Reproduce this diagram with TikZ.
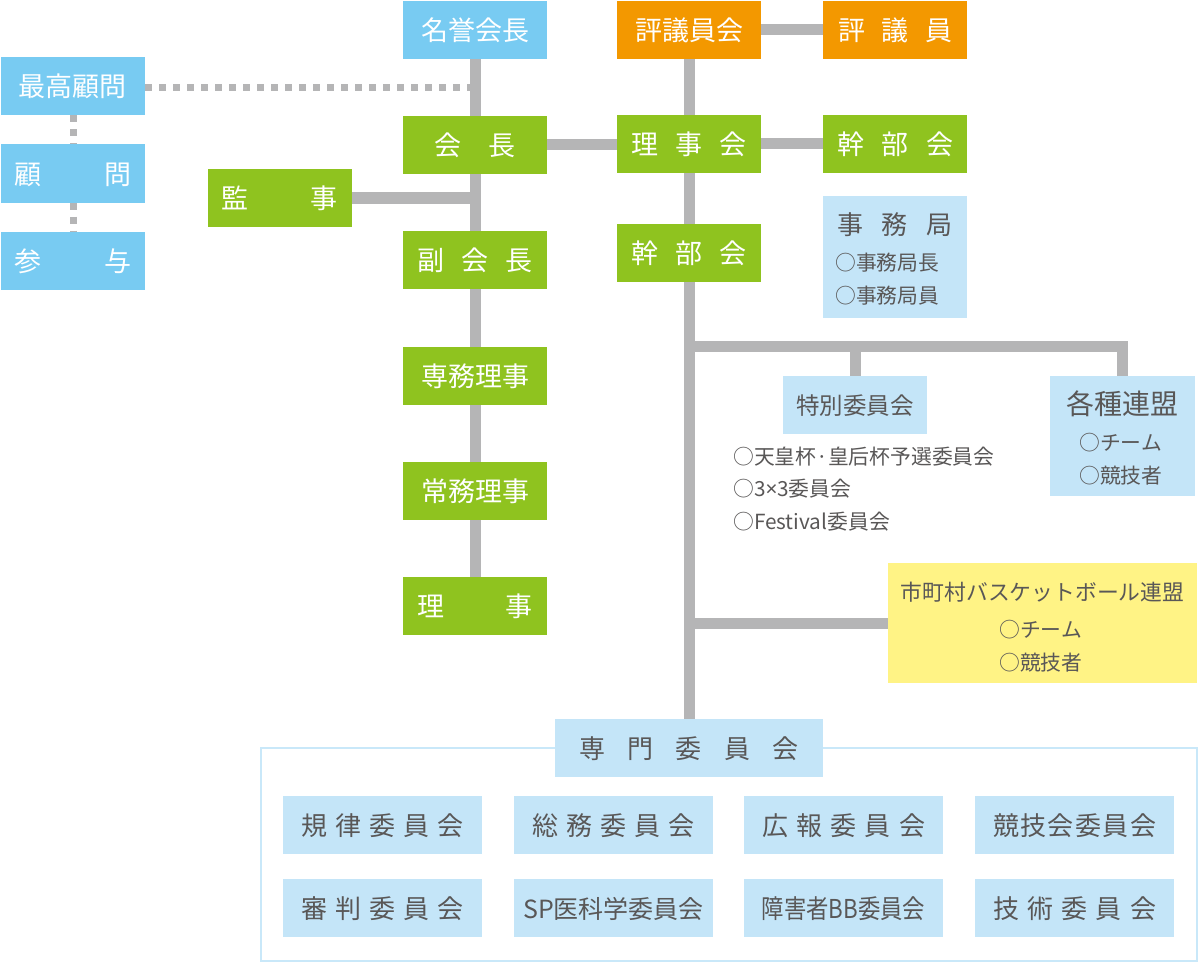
\documentclass[tikz,border=0pt]{standalone}
\usepackage{fontspec}
\setmainfont{Noto Sans CJK JP}
\newfontfamily\latinf{Noto Sans}
\newfontfamily\narrowjp[FakeStretch=0.86]{Noto Sans CJK JP}
\usetikzlibrary{backgrounds}
\definecolor{sky}{HTML}{78CBF2}
\definecolor{leaf}{HTML}{8FC31F}
\definecolor{amber}{HTML}{F39800}
\definecolor{pale}{HTML}{C4E5F8}
\definecolor{framec}{HTML}{C9E8F9}
\definecolor{lemon}{HTML}{FFF385}
\definecolor{lgray}{HTML}{B5B5B6}
\definecolor{txt}{HTML}{595757}
\newcommand{\spr}[2]{\makebox[#1pt][s]{#2}}
\newcommand{\fs}[1]{\fontsize{#1}{#1}\selectfont}
\begin{document}
\begin{tikzpicture}[x=1pt,y=-1pt,
  fA/.style={font=\fs{27}, text height=24.3pt, text depth=2.7pt},
  fB/.style={font=\fs{26}, text height=23.4pt, text depth=2.6pt},
  fC/.style={font=\fs{25}, text height=22.5pt, text depth=2.5pt},
  fD/.style={font=\fs{23.5}, text height=21.15pt, text depth=2.35pt},
  fE/.style={font=\narrowjp\fs{26}, text height=23.4pt, text depth=2.6pt},
  box/.style={minimum width=144pt, minimum height=58pt, inner sep=0pt, fA},
  skybox/.style={box, fill=sky, text=white},
  greenbox/.style={box, fill=leaf, text=white},
  orangebox/.style={box, fill=amber, text=white},
  palebox/.style={box, fill=pale, text=txt},
  yellowbox/.style={box, fill=lemon, text=txt},
  cbox/.style={palebox, minimum width=199pt, fB},
  plain/.style={inner sep=0pt, text=txt},
  conn/.style={draw=lgray, line width=11pt},
  dots/.style={draw=lgray, line width=7pt, dash pattern=on 7pt off 7pt}]
\useasboundingbox (0,0) rectangle (1200,963);

% left column
\node[skybox] (meiyo) at (475,30) {名誉会長};
\node[skybox] (saiko) at (73,86) {最高顧問};
\node[skybox] (komon) at (73,173.5) {\spr{117}{顧\hfill 問}};
\node[skybox] (sanyo) at (73,260.5) {\spr{117}{参\hfill 与}};
\node[greenbox] (kaicho) at (475,145) {会　長};
\node[greenbox] (kanji) at (279.5,198) {\spr{116}{監\hfill 事}};
\node[greenbox] (fuku) at (475,260) {\spr{116}{副\hfill 会\hfill 長}};
\node[greenbox] (semmu) at (475,376) {専務理事};
\node[greenbox] (jomu) at (475,491) {常務理事};
\node[greenbox] (riji) at (475,606) {\spr{116}{理\hfill 事}};

% right column
\node[orangebox] (hyogikai) at (689,30) {評議員会};
\node[orangebox] (hyogiin) at (895,30) {\spr{114}{評\hfill 議\hfill 員}};
\node[greenbox] (rijikai) at (689,144) {\spr{116}{理\hfill 事\hfill 会}};
\node[greenbox] (kanbuR) at (895,144) {\spr{116}{幹\hfill 部\hfill 会}};
\node[greenbox] (kanbu) at (689,253) {\spr{116}{幹\hfill 部\hfill 会}};

% secretariat
\node[palebox, minimum height=122pt] (jimu) at (895,257) {};
\node[plain, anchor=base, font=\fs{26}] (jimut) at (895,234.4) {\spr{116}{事\hfill 務\hfill 局}};
\node[plain, anchor=base west, align=left, font=\fontsize{20.8}{33}\selectfont] (jimul) at (835,303.3) {○事務局長\\○事務局員};

% special committee
\node[palebox, fD] (tokubetsu) at (855,405) {特別委員会};
\node[plain, anchor=base west, align=left, font=\fontsize{20.8}{32.5}\selectfont] (tokul) at (733,529.3) {○天皇杯·皇后杯予選委員会\\○3{\latinf ×}3委員会\\○Festival委員会};

% federations
\node[palebox, minimum width=145pt, minimum height=120pt] (kakushu) at (1122.5,436) {};
\node[plain, anchor=base, font=\fs{28}] (kakut) at (1122.5,414.2) {各種連盟};
\node[plain, anchor=base west, align=left, font=\fontsize{20.8}{32.5}\selectfont] (kakul) at (1079,483.3) {○チーム\\○競技者};

\node[yellowbox, minimum width=309pt, minimum height=120pt] (shicho) at (1042.5,623) {};
\node[plain, anchor=base, font=\fs{21.8}] (shichot) at (1042.5,600.7) {市町村バスケットボール連盟};
\node[plain, anchor=base west, align=left, font=\fontsize{20.8}{33}\selectfont] (shichol) at (999,670.3) {○チーム\\○競技者};

% specialist committees
\node[palebox, minimum width=268pt, fB] (senmon) at (689,748) {\spr{220}{専\hfill 門\hfill 委\hfill 員\hfill 会}};
\node[cbox] (c11) at (382.5,825) {\spr{163}{規\hfill 律\hfill 委\hfill 員\hfill 会}};
\node[cbox] (c12) at (613.5,825) {\spr{163}{総\hfill 務\hfill 委\hfill 員\hfill 会}};
\node[cbox] (c13) at (843.5,825) {\spr{163}{広\hfill 報\hfill 委\hfill 員\hfill 会}};
\node[cbox] (c14) at (1074.5,825) {\spr{163}{競\hfill 技\hfill 会\hfill 委\hfill 員\hfill 会}};
\node[cbox] (c21) at (382.5,908) {\spr{163}{審\hfill 判\hfill 委\hfill 員\hfill 会}};
\node[cbox, fC] (c22) at (613.5,908) {SP医科学委員会};
\node[cbox, fE] (c23) at (843.5,908) {障害者BB委員会};
\node[cbox] (c24) at (1074.5,908) {\spr{163}{技\hfill 術\hfill 委\hfill 員\hfill 会}};

\begin{scope}[on background layer]
  \draw[framec, line width=2.5pt] (261,748) rectangle (1197,961);
  \draw[conn] (meiyo.south) -- (riji.north);
  \draw[conn] (kaicho.east) -- (kaicho.east -| rijikai.west);
  \draw[conn] (kanji.east) -- (kanji.east -| meiyo.south);
  \draw[dots] ([yshift=-2pt]saiko.east) -- ([yshift=-2pt]saiko.east -| meiyo.south);
  \draw[dots] (saiko.south) -- (komon.north);
  \draw[dots] (komon.south) -- (sanyo.north);
  \draw[conn] (hyogikai.east) -- (hyogiin.west);
  \draw[conn] (hyogikai.south) -- (senmon.north);
  \draw[conn] (rijikai.east) -- (kanbuR.west);
  \coordinate (br) at (689,346);
  \draw[conn, line join=miter] (br) -| (kakushu.north);
  \draw[conn] (tokubetsu.north) -- (tokubetsu.north |- br);
  \draw[conn] (shicho.west -| hyogikai.south) -- (shicho.west);
\end{scope}
\end{tikzpicture}
\end{document}
